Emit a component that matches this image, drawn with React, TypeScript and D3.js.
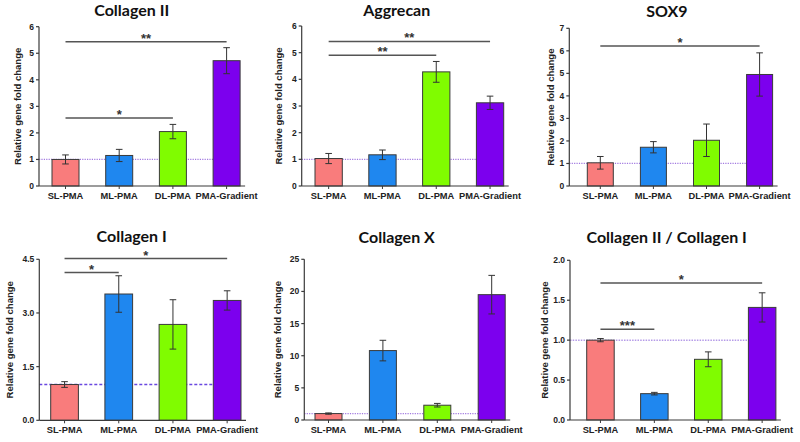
import React from "react";
import * as d3 from "d3";

const categories = ["SL-PMA", "ML-PMA", "DL-PMA", "PMA-Gradient"];
const barColors = ["#f97c7c", "#1f87ef", "#80fc00", "#7c00ee"];

const col2Mean = [1.0, 1.15, 2.05, 4.72];
const col2Err = [0.17, 0.23, 0.27, 0.49];
const aggMean = [1.03, 1.17, 4.28, 3.12];
const aggErr = [0.19, 0.18, 0.39, 0.25];
const sox9Mean = [1.03, 1.72, 2.03, 4.95];
const sox9Err = [0.28, 0.25, 0.72, 0.96];
const col1Mean = [1.0, 3.53, 2.68, 3.35];
const col1Err = [0.08, 0.51, 0.69, 0.27];
const col10Mean = [1.0, 10.8, 2.3, 19.5];
const col10Err = [0.1, 1.6, 0.28, 3.0];
const ratioMean = [1.0, 0.33, 0.76, 1.41];
const ratioErr = [0.02, 0.016, 0.093, 0.183];

const col2Sig = [
  { from: 0, to: 3, y: 5.43, label: "**" },
  { from: 0, to: 2, y: 2.56, label: "*" },
];
const aggSig = [
  { from: 0, to: 3, y: 5.42, label: "**" },
  { from: 0, to: 2, y: 4.9, label: "**" },
];
const sox9Sig = [{ from: 0, to: 3, y: 6.21, label: "*" }];
const col1Sig = [
  { from: 0, to: 3, y: 4.52, label: "*" },
  { from: 0, to: 1, y: 4.13, label: "*" },
];
const col10Sig: { from: number; to: number; y: number; label: string }[] = [];
const ratioSig = [
  { from: 0, to: 3, y: 1.716, label: "*" },
  { from: 0, to: 1, y: 1.136, label: "***" },
];

const col2Ticks = [0, 1, 2, 3, 4, 5, 6];
const aggTicks = [0, 1, 2, 3, 4, 5, 6];
const sox9Ticks = [0, 1, 2, 3, 4, 5, 6, 7];
const col1Ticks = [0, 1.5, 3.0, 4.5];
const col10Ticks = [0, 5, 10, 15, 20, 25];
const ratioTicks = [0, 0.5, 1.0, 1.5, 2.0];

const thinDot = { color: "#a27ae0", width: 1.2, dash: "1.2,1.2" };

const panels = [
  { title: "Collagen II", mean: col2Mean, err: col2Err, sig: col2Sig, ticks: col2Ticks, fmt: "d",
    axisX: 39, yTop: 26.7, yBottom: 186, first: 52, step: 53.7, w: 27, tx: 131.7, ty: 15.5, lx: 17.3, ref: thinDot },
  { title: "Aggrecan", mean: aggMean, err: aggErr, sig: aggSig, ticks: aggTicks, fmt: "d",
    axisX: 301.7, yTop: 26, yBottom: 186, first: 315, step: 53.8, w: 27.3, tx: 396.7, ty: 15.5, lx: 278.3, ref: thinDot },
  { title: "SOX9", mean: sox9Mean, err: sox9Err, sig: sox9Sig, ticks: sox9Ticks, fmt: "d",
    axisX: 569.3, yTop: 28.3, yBottom: 186, first: 587.3, step: 53.1, w: 26, tx: 667, ty: 16.5, lx: 550.7, ref: thinDot },
  { title: "Collagen I", mean: col1Mean, err: col1Err, sig: col1Sig, ticks: col1Ticks, fmt: ".1f",
    axisX: 39.3, yTop: 259.3, yBottom: 420.3, first: 50.7, step: 54.2, w: 27.7, tx: 131.7, ty: 241.7, lx: 9.3,
    ref: { color: "#6a48e0", width: 1.6, dash: "3,2" } },
  { title: "Collagen X", mean: col10Mean, err: col10Err, sig: col10Sig, ticks: col10Ticks, fmt: "d",
    axisX: 304.3, yTop: 259.3, yBottom: 420, first: 315, step: 54.4, w: 27, tx: 396.7, ty: 242.7, lx: 277.7, ref: thinDot },
  { title: "Collagen II / Collagen I", mean: ratioMean, err: ratioErr, sig: ratioSig, ticks: ratioTicks, fmt: ".1f",
    axisX: 570, yTop: 260.3, yBottom: 420, first: 586.7, step: 53.9, w: 27.5, tx: 666.7, ty: 242.7, lx: 545,
    ref: { color: "#b59be8", width: 1.5, dash: "1.5,1.2" } },
];

const AX = "#3a3a3a";
const LABEL_FONT = "'Liberation Sans', Arial, sans-serif";
const TITLE_FONT = "Lato, 'Open Sans', sans-serif";

function Panel({ p }: { p: (typeof panels)[number] }) {
  const ticks = p.ticks;
  const y = d3.scaleLinear().domain([0, ticks[ticks.length - 1]]).range([p.yBottom, p.yTop]);
  const x = d3
    .scaleBand<string>()
    .domain(categories)
    .range([p.first, p.first + 3 * p.step + p.w])
    .paddingInner(1 - p.w / p.step)
    .paddingOuter(0);
  const bw = x.bandwidth();
  const cx = (i: number) => (x(categories[i]) as number) + bw / 2;
  const fmt = d3.format(p.fmt);
  const axisEnd = p.first + 3 * p.step + p.w + 5;
  const midY = (p.yTop + p.yBottom) / 2;
  return (
    <g>
      <text x={p.tx} y={p.ty} textAnchor="middle" fontFamily={TITLE_FONT} fontWeight={700} fontSize={16} fill="#111">
        {p.title}
      </text>
      <text
        transform={`translate(${p.lx},${midY}) rotate(-90)`}
        textAnchor="middle"
        dy="0.35em"
        fontFamily={LABEL_FONT}
        fontWeight={700}
        fontSize={9.5}
        fill="#222"
      >
        Relative gene fold change
      </text>
      <line
        x1={p.axisX}
        x2={cx(3)}
        y1={y(1)}
        y2={y(1)}
        stroke={p.ref.color}
        strokeWidth={p.ref.width}
        strokeDasharray={p.ref.dash}
      />
      {categories.map((c, i) => (
        <rect
          key={c}
          x={x(c)}
          y={y(p.mean[i])}
          width={bw}
          height={p.yBottom - y(p.mean[i])}
          fill={barColors[i]}
          stroke="#3a3a3a"
          strokeWidth={1}
        />
      ))}
      {categories.map((c, i) => {
        const hi = y(p.mean[i] + p.err[i]);
        const lo = y(p.mean[i] - p.err[i]);
        const xc = cx(i);
        return (
          <g key={c} stroke="#333" strokeWidth={1}>
            <line x1={xc} x2={xc} y1={hi} y2={lo} />
            <line x1={xc - 3.3} x2={xc + 3.3} y1={hi} y2={hi} />
            <line x1={xc - 3.3} x2={xc + 3.3} y1={lo} y2={lo} />
          </g>
        );
      })}
      <line x1={p.axisX} x2={p.axisX} y1={p.yTop} y2={p.yBottom} stroke={AX} strokeWidth={1.2} />
      <line x1={p.axisX} x2={axisEnd} y1={p.yBottom} y2={p.yBottom} stroke={AX} strokeWidth={1.2} />
      {ticks.map((t) => (
        <g key={t}>
          <line x1={p.axisX - 3} x2={p.axisX} y1={y(t)} y2={y(t)} stroke={AX} strokeWidth={1.2} />
          <text
            x={p.axisX - 5}
            y={y(t)}
            dy="0.35em"
            textAnchor="end"
            fontFamily={LABEL_FONT}
            fontWeight={700}
            fontSize={8.5}
            fill="#222"
          >
            {fmt(t)}
          </text>
        </g>
      ))}
      {categories.map((c, i) => (
        <g key={c}>
          <line x1={cx(i)} x2={cx(i)} y1={p.yBottom} y2={p.yBottom + 3} stroke={AX} strokeWidth={1} />
          <text
            x={cx(i)}
            y={p.yBottom + 13}
            textAnchor="middle"
            fontFamily={LABEL_FONT}
            fontWeight={700}
            fontSize={9.3}
            fill="#222"
          >
            {c}
          </text>
        </g>
      ))}
      {p.sig.map((s, k) => (
        <g key={k}>
          <line x1={cx(s.from)} x2={cx(s.to)} y1={y(s.y)} y2={y(s.y)} stroke="#555" strokeWidth={1.5} />
          <text
            x={(cx(s.from) + cx(s.to)) / 2}
            y={y(s.y) + 1}
            textAnchor="middle"
            fontFamily={LABEL_FONT}
            fontWeight={700}
            fontSize={13}
            fill="#333"
          >
            {s.label}
          </text>
        </g>
      ))}
    </g>
  );
}

export default function App() {
  return (
    <svg width={800} height={442} style={{ position: "absolute", left: 0, top: 0, background: "#fff" }}>
      <rect width={800} height={442} fill="#fff" />
      {panels.map((p) => (
        <Panel key={p.title} p={p} />
      ))}
    </svg>
  );
}
